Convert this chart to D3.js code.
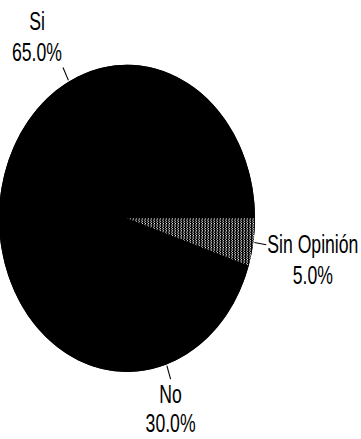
<!DOCTYPE html>
<html>
<head>
<meta charset="utf-8">
<script src="https://cdn.jsdelivr.net/npm/d3@7"></script>
<style>
  html, body { margin: 0; padding: 0; background: #fff; }
  svg { display: block; }
  text { font-family: 'Liberation Sans', Arial, sans-serif; fill: #000; }
</style>
</head>
<body>
<svg id="chart" width="361" height="439"></svg>
<script>
// ---- data ----
const categories = ["Si", "No", "Sin Opinión"];
const values = [65.0, 30.0, 5.0];
const valueLabels = ["65.0%", "30.0%", "5.0%"];

// ---- layout ----
const W = 361, H = 439;
const SY = 1.2;             // vertical stretch of the original scan
const SX = 0.82;            // narrow type (Arial Narrow ≈ 82% of Arial)
const cx = 127, cyS = 218.3; // centre in screen coords
const cy = cyS / SY;
const r = 128;
const fontSize = 21.5;

const svg = d3.select("#chart");

// pattern for the small slice (dotted grey)
const defs = svg.append("defs");
const pat = defs.append("pattern")
  .attr("id", "dots").attr("patternUnits", "userSpaceOnUse")
  .attr("width", 3).attr("height", 2);
pat.append("rect").attr("width", 3).attr("height", 2).attr("fill", "#000");
pat.append("rect").attr("x", 0).attr("y", 0).attr("width", 1).attr("height", 1).attr("fill", "#e6e6e6");
pat.append("rect").attr("x", 2).attr("y", 1).attr("width", 1).attr("height", 1).attr("fill", "#9a9a9a");

const fills = { "Si": "#000", "No": "#000", "Sin Opinión": "url(#dots)" };

const rows = categories.map((c, i) => ({ cat: c, value: values[i], label: valueLabels[i], idx: i }));

// clockwise from 3 o'clock: Sin Opinión, No, Si
const pie = d3.pie().value(d => d.value)
  .sort((a, b) => b.idx - a.idx)
  .startAngle(Math.PI / 2).endAngle(Math.PI / 2 + 2 * Math.PI);
const arcs = pie(rows);
const arc = d3.arc().innerRadius(0).outerRadius(r);

const pieG = svg.append("g").attr("transform", `scale(1,${SY}) translate(${cx},${cy})`);
// solid underlay so black slices show no seam between them
pieG.append("path")
  .attr("d", arc({ startAngle: 0, endAngle: 2 * Math.PI }))
  .attr("fill", "#000");
pieG.selectAll("path.slice").data(arcs).join("path")
  .attr("class", "slice")
  .attr("d", arc)
  .attr("fill", d => fills[d.data.cat])
  .attr("stroke", "none");

// polar -> screen
function pt(angle, rad) {
  return [cx + rad * Math.sin(angle), (cy - rad * Math.cos(angle)) * SY];
}

arcs.forEach(a => {
  const mid = (a.startAngle + a.endAngle) / 2;
  const p0 = pt(mid, r + 1);
  const p1 = pt(mid, r + 13);
  svg.append("line")
    .attr("x1", p0[0]).attr("y1", p0[1]).attr("x2", p1[0]).attr("y2", p1[1])
    .attr("stroke", "#000").attr("stroke-width", 1.1);

  const lines = [a.data.cat, a.data.label];
  const tmp = svg.append("text").attr("font-size", fontSize);
  const widths = lines.map(t => { tmp.text(t); return tmp.node().getComputedTextLength() * SX; });
  tmp.remove();
  const wMax = d3.max(widths);

  const s = Math.sin(mid), c = Math.cos(mid);
  let centerX, base0, gap = 31;
  if (s > 0.7) {            // right side
    centerX = p1[0] + 1 + wMax / 2;
    base0 = p1[1] + 8;
  } else if (c < -0.7) {    // bottom
    centerX = p1[0];
    base0 = p1[1] + 23.5;
    gap = 29.5;
  } else {                  // upper-left
    centerX = p1[0] - 1 - wMax / 2;
    base0 = p1[1] - 6.5 - gap;
  }
  lines.forEach((t, k) => {
    svg.append("text")
      .attr("transform", `translate(${centerX},${base0 + k * gap}) scale(${SX},${SY})`)
      .attr("text-anchor", "middle")
      .attr("font-size", fontSize)
      .text(t);
  });
});
</script>
</body>
</html>
